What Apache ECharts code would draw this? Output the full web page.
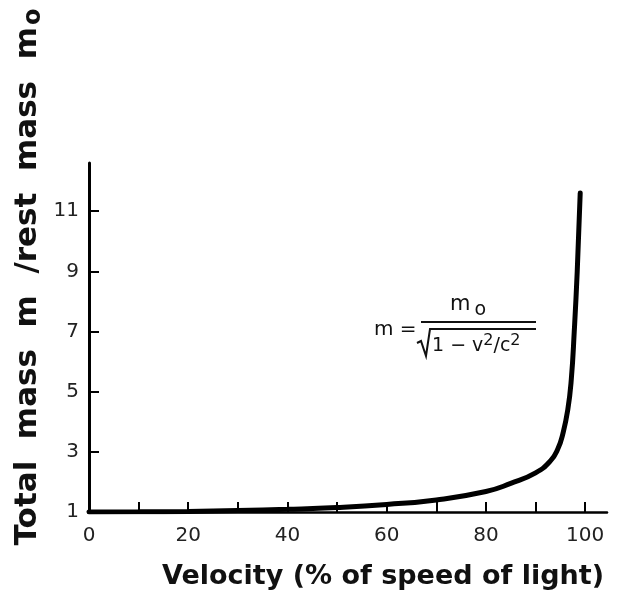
<!DOCTYPE html>
<html>
<head>
<meta charset="utf-8">
<script src="https://cdn.jsdelivr.net/npm/echarts@6/dist/echarts.min.js"></script>
<style>
html,body{margin:0;padding:0;background:#fff;}
#chart{width:617px;height:595px;}
</style>
</head>
<body>
<div id="chart"></div>
<script>
// values
var velocity  = [0, 10, 20, 30, 40, 50, 60, 70, 80, 85, 90, 93, 94.5, 95.5, 96.5, 97.2, 97.8, 98.4, 99.0];
var massRatio = [1, 1.005, 1.02, 1.05, 1.09, 1.15, 1.25, 1.4, 1.68, 1.95, 2.3, 2.7, 3.1, 3.6, 4.4, 5.4, 7.0, 9.0, 11.6];
var xTicks  = [0, 10, 20, 30, 40, 50, 60, 70, 80, 90, 100];
var xLabels = [0, 20, 40, 60, 80, 100];
var yTicks  = [1, 3, 5, 7, 9, 11];

var pts = [];
for (var i = 0; i < velocity.length; i++) pts.push([velocity[i], massRatio[i]]);

var font = 'DejaVu Sans';
var chart = echarts.init(document.getElementById('chart'));
chart.setOption({
    animation: false,
    backgroundColor: '#fff',
    grid: {left: 89, right: 10, top: 163, bottom: 83},
    xAxis: {
        type: 'value', min: 0, max: 104.4,
        axisLine: {lineStyle: {color: '#000', width: 2.5}},
        axisTick: {inside: true, length: 10, lineStyle: {color: '#000', width: 2}, customValues: xTicks},
        axisLabel: {customValues: xLabels, color: '#222', fontFamily: font, fontSize: 20, margin: 14},
        splitLine: {show: false}
    },
    yAxis: {
        type: 'value', min: 1, max: 12.6,
        axisLine: {show: true, lineStyle: {color: '#000', width: 3}},
        axisTick: {show: true, inside: true, length: 10, lineStyle: {color: '#000', width: 2}, customValues: yTicks},
        axisLabel: {customValues: yTicks, color: '#222', fontFamily: font, fontSize: 20, margin: 10},
        splitLine: {show: false}
    },
    series: [{
        type: 'line', data: pts, showSymbol: false, smooth: 0.5,
        lineStyle: {color: '#000', width: 5, cap: 'round'}
    }],
    graphic: [
        {type: 'text', x: 383, y: 577, style: {text: 'Velocity (% of speed of light)', fill: '#111',
            font: 'bold 27px "DejaVu Sans"', align: 'center', verticalAlign: 'middle'}},
        {type: 'text', x: 28, y: 277, rotation: Math.PI / 2,
            style: {text: '{a|Total  mass  m  /rest  mass  m}{s|o}', align: 'center', verticalAlign: 'middle', fill: '#111',
                rich: {a: {font: 'bold 31px "DejaVu Sans"', fill: '#111'},
                       s: {font: 'bold 24px "DejaVu Sans"', fill: '#111', padding: [12, 0, 0, 2]}}}},
        // formula
        {type: 'text', x: 374, y: 330, style: {text: 'm =', font: '20px "DejaVu Sans"', fill: '#111', verticalAlign: 'middle'}},
        {type: 'text', x: 450, y: 305, style: {text: '{a|m}{s|o}', verticalAlign: 'middle', fill: '#111',
            rich: {a: {font: '21px "DejaVu Sans"', fill: '#111'}, s: {font: '19px "DejaVu Sans"', fill: '#111', padding: [10, 0, 0, 4]}}}},
        {type: 'line', shape: {x1: 421, y1: 322, x2: 536, y2: 322}, style: {stroke: '#111', lineWidth: 2}},
        {type: 'polyline', shape: {points: [[417, 343], [421, 341], [426, 356], [430, 329], [536, 329]]},
            style: {stroke: '#111', lineWidth: 2, fill: null}},
        {type: 'text', x: 432, y: 346, style: {text: '{a|1 − v}{s|2}{a|/c}{s|2}', verticalAlign: 'middle', fill: '#111',
            rich: {a: {font: '19px "DejaVu Sans"', fill: '#111'}, s: {font: '16px "DejaVu Sans"', fill: '#111', padding: [0, 0, 10, 0]}}}}
    ]
});
</script>
</body>
</html>
